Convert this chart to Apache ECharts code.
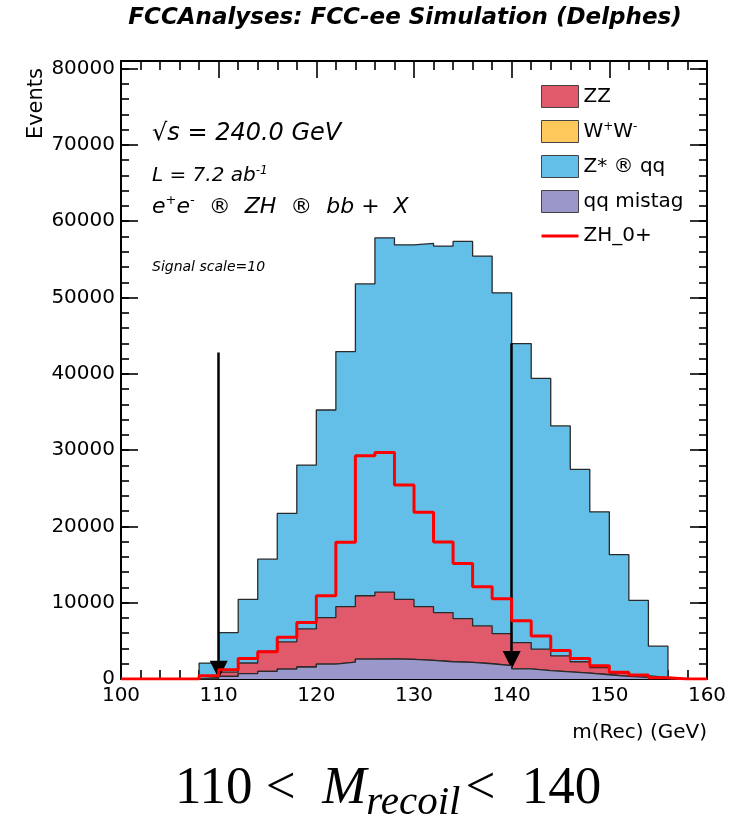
<!doctype html>
<html lang="en">
<head>
    <meta charset="utf-8">
    <title>FCCAnalyses recoil mass</title>
    <script src="https://cdn.jsdelivr.net/npm/echarts@6.0.0/dist/echarts.min.js"></script>
    <style>
        html, body { margin: 0; padding: 0; background: #fff; }
    </style>
</head>
<body>
    <div id="main" style="width:755px; height:818px;"></div>
    <script type="text/javascript">
        // lower bin edges (GeV), bins are 2 GeV wide
        var binLow = [100, 102, 104, 106, 108, 110, 112, 114, 116, 118, 120, 122, 124, 126, 128,
            130, 132, 134, 136, 138, 140, 142, 144, 146, 148, 150, 152, 154, 156, 158];
        var xMax = 160;

        // backgrounds, stacked bottom -> top: qq mistag, WW, ZZ, Z* -> qq
        var mistag = [0, 0, 0, 0, 50, 350, 700, 1000, 1300, 1570, 1960, 2220, 2610, 2650, 2570,
            2430, 2260, 2170, 2000, 1740, 1340, 1100, 930, 760, 560, 350, 220, 90, 0, 0];
        var ww = [0, 0, 0, 0, 0, 0, 0, 0, 0, 0, 0, 0, 0, 0, 0,
            0, 0, 0, 0, 0, 0, 0, 0, 0, 0, 0, 0, 0, 0, 0];
        var zz = [0, 0, 0, 0, 150, 550, 1400, 2650, 3570, 4990, 6080, 7260, 8300, 8740, 7860,
            7050, 6440, 5740, 4960, 4220, 3440, 2810, 2110, 1500, 920, 430, 210, 80, 0, 0];
        var zqq = [0, 0, 0, 0, 1890, 5190, 8330, 12050, 16830, 21480, 27220, 33430, 40870, 46440, 46480,
            47610, 48040, 49440, 48470, 44650, 39180, 35480, 30130, 25220, 20430, 15520, 9870, 4130, 0, 0];
        // signal, already x10
        var zh0 = [0, 0, 0, 0, 435, 1220, 2700, 3570, 5480, 7390, 10910, 17910, 29260, 29700, 25430,
            21870, 17960, 15130, 12090, 10520, 7650, 5650, 3740, 2700, 1740, 870, 520, 170, 0, 0];

        // cut arrows
        var cutX = [110, 140];
        var cutTop = [42800, 44000];
        var cutTip = [1200, 2500];

        var colZZ = '#e05a6c', colWW = '#fec85a', colZqq = '#63bfe8', colMis = '#9a98cb';
        var txtFont = '"DejaVu Sans", sans-serif';
        var serif = '"Liberation Serif", serif';

        function addUp(a, b) {
            return a.map(function (v, i) { return v + b[i]; });
        }
        function steps(vals) {
            var pts = binLow.map(function (x, i) { return [x, vals[i]]; });
            pts.push([xMax, vals[vals.length - 1]]);
            return pts;
        }

        var c1 = mistag;
        var c2 = addUp(c1, ww);
        var c3 = addUp(c2, zz);
        var c4 = addUp(c3, zqq);

        function histo(name, vals, color, z) {
            return {
                name: name,
                type: 'line',
                step: 'end',
                data: steps(vals),
                symbol: 'none',
                color: color,
                z: z,
                silent: true,
                lineStyle: { color: '#2a2a2a', width: 1.3 },
                areaStyle: { color: color, opacity: 1 }
            };
        }

        var tickStyle = { color: '#000', width: 1.6 };
        var plainNum = function (v) { return String(v); };

        var chartDom = document.getElementById('main');
        var myChart = echarts.init(chartDom);
        var option = {
            animation: false,
            backgroundColor: '#fff',
            grid: { left: 121, right: 48, top: 61, bottom: 139 },
            legend: {
                orient: 'vertical',
                left: 535,
                top: 80,
                itemWidth: 37,
                itemHeight: 22,
                itemGap: 12,
                selectedMode: false,
                textStyle: {
                    fontFamily: txtFont, fontSize: 20, color: '#000', lineHeight: 22,
                    rich: { s: { fontFamily: txtFont, fontSize: 12, color: '#000', verticalAlign: 'top', lineHeight: 12 } }
                },
                formatter: function (name) {
                    if (name === 'W+W-') return 'W{s|+}W{s|-}';
                    return name;
                },
                data: [
                    { name: 'ZZ', icon: 'rect', itemStyle: { color: colZZ, borderColor: '#444', borderWidth: 1 } },
                    { name: 'W+W-', icon: 'rect', itemStyle: { color: colWW, borderColor: '#444', borderWidth: 1 } },
                    { name: 'Z* ® qq', icon: 'rect', itemStyle: { color: colZqq, borderColor: '#444', borderWidth: 1 } },
                    { name: 'qq mistag', icon: 'rect', itemStyle: { color: colMis, borderColor: '#444', borderWidth: 1 } },
                    {
                        name: 'ZH_0+',
                        itemStyle: { color: 'rgba(0,0,0,0)', borderColor: 'rgba(0,0,0,0)', borderWidth: 0, opacity: 0 },
                        lineStyle: { color: '#ff0000', width: 3 }
                    }
                ]
            },
            xAxis: [{
                type: 'value', min: 100, max: 160, interval: 10, position: 'bottom',
                axisLine: { show: true, onZero: false, lineStyle: { color: '#000', width: 2 } },
                axisTick: { inside: true, length: 17, lineStyle: tickStyle },
                minorTick: { show: true, splitNumber: 5, length: 9, lineStyle: tickStyle },
                axisLabel: { fontFamily: txtFont, fontSize: 20, color: '#000', margin: 7, formatter: plainNum },
                splitLine: { show: false }
            }, {
                type: 'value', min: 100, max: 160, interval: 10, position: 'top',
                axisLine: { show: true, onZero: false, lineStyle: { color: '#000', width: 2 } },
                axisTick: { inside: true, length: 17, lineStyle: tickStyle },
                minorTick: { show: true, splitNumber: 5, length: 9, lineStyle: tickStyle },
                axisLabel: { show: false },
                splitLine: { show: false }
            }],
            yAxis: [{
                type: 'value', min: 0, max: 81000, interval: 10000, position: 'left',
                axisLine: { show: true, onZero: false, lineStyle: { color: '#000', width: 2 } },
                axisTick: { show: true, inside: true, length: 17, lineStyle: tickStyle },
                axisLabel: { fontFamily: txtFont, fontSize: 20, color: '#000', margin: 6, showMaxLabel: false, formatter: plainNum },
                splitLine: { show: false }
            }, {
                type: 'value', min: 0, max: 81000, interval: 2000, position: 'left',
                axisLine: { show: false },
                axisTick: { show: true, inside: true, length: 8, lineStyle: tickStyle },
                axisLabel: { show: false },
                splitLine: { show: false }
            }, {
                type: 'value', min: 0, max: 81000, interval: 10000, position: 'right',
                axisLine: { show: true, onZero: false, lineStyle: { color: '#000', width: 2 } },
                axisTick: { show: true, inside: true, length: 17, lineStyle: tickStyle },
                axisLabel: { show: false },
                splitLine: { show: false }
            }, {
                type: 'value', min: 0, max: 81000, interval: 2000, position: 'right',
                axisLine: { show: false },
                axisTick: { show: true, inside: true, length: 8, lineStyle: tickStyle },
                axisLabel: { show: false },
                splitLine: { show: false }
            }],
            series: [
                histo('Z* ® qq', c4, colZqq, 2),
                histo('ZZ', c3, colZZ, 3),
                histo('W+W-', c2, colWW, 4),
                histo('qq mistag', c1, colMis, 5),
                {
                    name: 'ZH_0+',
                    type: 'line',
                    step: 'end',
                    data: steps(zh0),
                    symbol: 'none',
                    color: '#ff0000',
                    z: 6,
                    silent: true,
                    lineStyle: { color: '#ff0000', width: 3 },
                    markLine: {
                        silent: true,
                        symbol: ['none', 'triangle'],
                        symbolSize: 18,
                        label: { show: false },
                        itemStyle: { color: '#000' },
                        lineStyle: { color: '#000', width: 2.5, type: 'solid' },
                        emphasis: { disabled: true },
                        data: cutX.map(function (x, i) {
                            return [{ coord: [x, cutTop[i]] }, { coord: [x, cutTip[i]] }];
                        })
                    }
                }
            ],
            graphic: [
                {
                    type: 'text', x: 405, y: 18,
                    style: {
                        text: 'FCCAnalyses: FCC-ee Simulation (Delphes)',
                        font: 'italic bold 23px "DejaVu Sans"', fill: '#000',
                        align: 'center', verticalAlign: 'middle',
                        textAlign: 'center', textVerticalAlign: 'middle'
                    }
                },
                {
                    type: 'text', x: 152, y: 134,
                    style: {
                        text: '√s = 240.0 GeV',
                        font: 'italic 24px "DejaVu Sans"', fill: '#000',
                        align: 'left', verticalAlign: 'middle',
                        textAlign: 'left', textVerticalAlign: 'middle'
                    }
                },
                {
                    type: 'text', x: 152, y: 176,
                    style: {
                        text: '{a|L = 7.2 ab}{s|-1}',
                        fill: '#000',
                        align: 'left', verticalAlign: 'middle',
                        textAlign: 'left', textVerticalAlign: 'middle',
                        rich: {
                            a: { fontFamily: txtFont, fontStyle: 'italic', fontSize: 20, lineHeight: 22 },
                            s: { fontFamily: txtFont, fontStyle: 'italic', fontSize: 12, lineHeight: 12, verticalAlign: 'top' }
                        }
                    }
                },
                {
                    type: 'text', x: 152, y: 207,
                    style: {
                        text: '{a|e}{s|+}{a|e}{s|-}{a|  ®  ZH  ®  bb +  X}',
                        fill: '#000',
                        align: 'left', verticalAlign: 'middle',
                        textAlign: 'left', textVerticalAlign: 'middle',
                        rich: {
                            a: { fontFamily: txtFont, fontStyle: 'italic', fontSize: 22, lineHeight: 26 },
                            s: { fontFamily: txtFont, fontStyle: 'italic', fontSize: 13, lineHeight: 14, verticalAlign: 'top' }
                        }
                    }
                },
                {
                    type: 'text', x: 152, y: 267,
                    style: {
                        text: 'Signal scale=10',
                        font: 'italic 14px "DejaVu Sans"', fill: '#000',
                        align: 'left', verticalAlign: 'middle',
                        textAlign: 'left', textVerticalAlign: 'middle'
                    }
                },
                {
                    type: 'text', x: 37, y: 68, rotation: Math.PI / 2,
                    style: {
                        text: 'Events',
                        font: '21px "DejaVu Sans"', fill: '#000',
                        align: 'right', verticalAlign: 'middle',
                        textAlign: 'right', textVerticalAlign: 'middle'
                    }
                },
                {
                    type: 'text', x: 707, y: 733,
                    style: {
                        text: 'm(Rec) (GeV)',
                        font: '20px "DejaVu Sans"', fill: '#000',
                        align: 'right', verticalAlign: 'middle',
                        textAlign: 'right', textVerticalAlign: 'middle'
                    }
                },
                {
                    type: 'text', x: 175, y: 789,
                    style: {
                        text: '{n|110 <  }{m|M}{r|recoil}{n|<  140}',
                        fill: '#000',
                        align: 'left', verticalAlign: 'middle',
                        textAlign: 'left', textVerticalAlign: 'middle',
                        rich: {
                            n: { fontFamily: serif, fontSize: 53, lineHeight: 70, verticalAlign: 'middle' },
                            m: { fontFamily: serif, fontStyle: 'italic', fontSize: 53, lineHeight: 70, verticalAlign: 'middle' },
                            r: { fontFamily: serif, fontStyle: 'italic', fontSize: 41, lineHeight: 44, verticalAlign: 'bottom', padding: [0, 5, 0, 0] }
                        }
                    }
                }
            ]
        };

        myChart.setOption(option);
    </script>
</body>
</html>
